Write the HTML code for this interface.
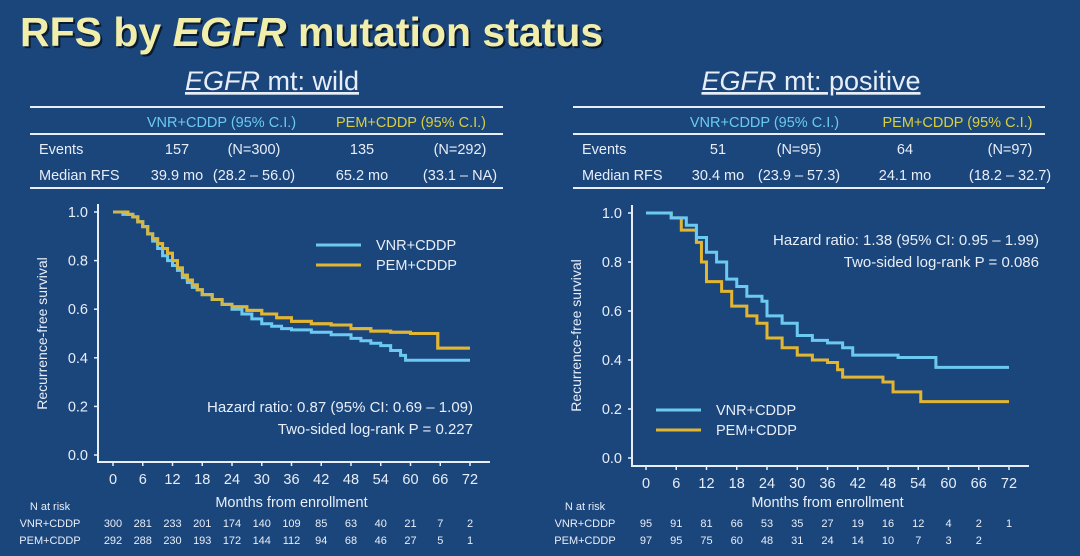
<!DOCTYPE html>
<html><head><meta charset="utf-8"><style>
body{margin:0;width:1080px;height:556px;background:#1b467c;overflow:hidden;font-family:"Liberation Sans",Arial,sans-serif}
svg{position:absolute;left:0;top:0}
text{font-family:"Liberation Sans",Arial,sans-serif}
</style></head><body>
<svg id="s" width="1080" height="556" viewBox="0 0 1080 556">
<text x="22" y="48" font-size="41" font-weight="bold" fill="#0a1a30">RFS by <tspan font-style="italic">EGFR</tspan> mutation status</text>
<text x="20" y="46" font-size="41" font-weight="bold" fill="#f0eeaa">RFS by <tspan font-style="italic">EGFR</tspan> mutation status</text>
</svg>
<script>
const months=[0,6,12,18,24,30,36,42,48,54,60,66,72];
const yTicks=[0,0.2,0.4,0.6,0.8,1.0];
const wildVnr=[[0,1],[2,0.99],[4,0.98],[5,0.96],[6,0.94],[7,0.91],[8,0.88],[9,0.85],[10,0.82],[11,0.8],[12,0.78],[13,0.76],[14,0.73],[15,0.71],[16,0.69],[17,0.68],[18,0.66],[20,0.64],[22,0.62],[24,0.6],[26,0.58],[28,0.56],[30,0.54],[32,0.53],[34,0.52],[36,0.515],[40,0.505],[44,0.495],[48,0.48],[50,0.47],[52,0.46],[54,0.45],[56,0.43],[58,0.41],[59,0.39],[72,0.39]];
const wildPem=[[0,1],[3,0.99],[4,0.98],[5,0.96],[6,0.94],[7,0.91],[8,0.89],[9,0.87],[10,0.85],[11,0.83],[12,0.8],[13,0.77],[14,0.74],[15,0.72],[16,0.7],[17,0.68],[18,0.66],[20,0.64],[22,0.62],[24,0.61],[27,0.595],[30,0.58],[33,0.565],[36,0.55],[40,0.54],[44,0.535],[48,0.52],[52,0.51],[56,0.505],[60,0.5],[65,0.5],[65.5,0.44],[72,0.44]];
const posVnr=[[0,1],[5,0.98],[8,0.95],[10,0.9],[12,0.84],[14,0.8],[16,0.73],[18,0.7],[20,0.66],[23,0.64],[24,0.58],[27,0.55],[30,0.5],[33,0.48],[36,0.47],[39,0.45],[41,0.42],[50,0.41],[57,0.41],[57.5,0.37],[72,0.37]];
const posPem=[[0,1],[5,0.98],[7,0.93],[10,0.88],[11,0.8],[12,0.72],[15,0.68],[17,0.62],[20,0.58],[22,0.55],[24,0.49],[27,0.45],[30,0.42],[33,0.4],[36,0.39],[38,0.36],[39,0.33],[47,0.31],[49,0.27],[54,0.27],[54.5,0.23],[72,0.23]];
const wildRiskVnr=[300,281,233,201,174,140,109,85,63,40,21,7,2];
const wildRiskPem=[292,288,230,193,172,144,112,94,68,46,27,5,1];
const posRiskVnr=[95,91,81,66,53,35,27,19,16,12,4,2,1];
const posRiskPem=[97,95,75,60,48,31,24,14,10,7,3,2,""];
const wildTable=[["157","(N=300)","135","(N=292)"],["39.9 mo","(28.2 – 56.0)","65.2 mo","(33.1 – NA)"]];
const posTable=[["51","(N=95)","64","(N=97)"],["30.4 mo","(23.9 – 57.3)","24.1 mo","(18.2 – 32.7)"]];

const NS="http://www.w3.org/2000/svg", S=document.getElementById('s');
function el(t,a,txt,p){const e=document.createElementNS(NS,t);for(const k in a)e.setAttribute(k,a[k]);if(txt!==undefined)e.textContent=txt;(p||S).appendChild(e);return e;}
const BLUE="#6ccaf2", YEL="#e2b532", WH="#e8eef8";

function panel(o){
  const g=el('g',{});
  
  
  const h=el('text',{x:o.hx,y:90,'font-size':27,fill:WH,'text-anchor':'middle','text-decoration':'underline'},undefined,g);
  h.innerHTML='<tspan font-style="italic">EGFR</tspan> mt: '+o.label;
  
  
  [107,134,188].forEach(y=>{const l=el('line',{x1:o.tx0,x2:o.tx1,y1:y,y2:y,stroke:WH,'stroke-width':2},undefined,g);
    
    });
  const cols=o.cols;
  const hv=el('text',{x:(cols[0]+cols[1])/2+6,y:127,'font-size':14.5,fill:BLUE,'text-anchor':'middle'},'VNR+CDDP (95% C.I.)',g);
  
  
  const hp=el('text',{x:(cols[2]+cols[3])/2,y:127,'font-size':14.5,fill:"#d8d040",'text-anchor':'middle'},'PEM+CDDP (95% C.I.)',g);
  
  
  ['Events','Median RFS'].forEach((r,i)=>{
    const y=154+i*26;
    const t=el('text',{x:o.tx0+9,y:y,'font-size':14.5,fill:WH},r,g);
    
    
    o.table[i].forEach((v,j)=>{const c=el('text',{x:cols[j],y:y,'font-size':14.5,fill:WH,'text-anchor':'middle'},v,g);
      
      });
  });
  const X=m=>o.x0+(o.x1-o.x0)*m/72, Y=v=>o.y0-(o.y0-o.y1)*v;
  const ax=el('path',{d:`M${o.ax} ${Y(1)-8} V${o.axy} H${X(72)+20}`,fill:'none',stroke:WH,'stroke-width':2},undefined,g);
  
  
  yTicks.forEach(v=>{
    const tk=el('line',{x1:o.ax-4,x2:o.ax,y1:Y(v),y2:Y(v),stroke:WH,'stroke-width':1.5},undefined,g);
    
    
    const t=el('text',{x:o.ax-10,y:Y(v)+5,'font-size':14.5,fill:WH,'text-anchor':'end'},v.toFixed(1),g);
    
    
  });
  months.forEach((m,i)=>{
    const tk=el('line',{x1:X(m),x2:X(m),y1:o.axy,y2:o.axy+4,stroke:WH,'stroke-width':1.5},undefined,g);
    
    
    const t=el('text',{x:X(m),y:o.axy+22,'font-size':14.5,fill:WH,'text-anchor':'middle'},m,g);
    
    
    const r1=el('text',{x:X(m),y:527,'font-size':11,fill:WH,'text-anchor':'middle'},o.rv[i],g);
    
    
    const r2=el('text',{x:X(m),y:544,'font-size':11,fill:WH,'text-anchor':'middle'},o.rp[i],g);
    
    
  });
  const xt=el('text',{x:(X(0)+X(72))/2,y:507,'font-size':14.5,fill:WH,'text-anchor':'middle'},'Months from enrollment',g);
  
  
  const yt=el('text',{transform:`translate(${o.ax-51},${(Y(0)+Y(1))/2}) rotate(-90)`,'font-size':14,fill:WH,'text-anchor':'middle'},'Recurrence-free survival',g);
  
  
  const nr=el('text',{x:o.nx,y:510,'font-size':11,fill:WH,'text-anchor':'middle'},'N at risk',g);
  
  
  const l1=el('text',{x:o.nx,y:527,'font-size':11,fill:WH,'text-anchor':'middle'},'VNR+CDDP',g);
  
  
  const l2=el('text',{x:o.nx,y:544,'font-size':11,fill:WH,'text-anchor':'middle'},'PEM+CDDP',g);
  
  
  function step(d){let s=`M${X(d[0][0])} ${Y(d[0][1])}`;for(let i=1;i<d.length;i++){s+=` H${X(d[i][0])} V${Y(d[i][1])}`;}return s;}
  const cp=el('path',{d:step(o.pem),fill:'none',stroke:YEL,'stroke-width':3},undefined,g);
  
  
  const cv=el('path',{d:step(o.vnr),fill:'none',stroke:BLUE,'stroke-width':3},undefined,g);
  
  
  if(o.name==='wild'){
    const cp2=el('path',{d:step(o.pem),fill:'none',stroke:YEL,'stroke-width':3,opacity:0.85},undefined,g);
    
    
  }
  const lg=o.leg;
  const a=el('line',{x1:lg[0],x2:lg[0]+45,y1:lg[1],y2:lg[1],stroke:BLUE,'stroke-width':3},undefined,g);
  
  
  const b=el('line',{x1:lg[0],x2:lg[0]+45,y1:lg[1]+20,y2:lg[1]+20,stroke:YEL,'stroke-width':3},undefined,g);
  
  
  const at=el('text',{x:lg[0]+60,y:lg[1]+5,'font-size':14.5,fill:WH},'VNR+CDDP',g);
  
  
  const bt=el('text',{x:lg[0]+60,y:lg[1]+25,'font-size':14.5,fill:WH},'PEM+CDDP',g);
  
  
  const s1=el('text',{x:o.sx,y:o.sy,'font-size':15,fill:WH,'text-anchor':'end'},o.s1,g);
  
  
  const s2=el('text',{x:o.sx,y:o.sy+22,'font-size':15,fill:WH,'text-anchor':'end'},o.s2,g);
  
  
}
panel({name:'wild',label:'wild',hx:272,tx0:30,tx1:503,cols:[177,254,362,460],table:wildTable,
  x0:113,x1:470,y0:455,y1:212,ax:98,axy:462,rv:wildRiskVnr,rp:wildRiskPem,nx:50,
  vnr:wildVnr,pem:wildPem,leg:[316,245],sx:473,sy:412,s1:'Hazard ratio: 0.87 (95% CI: 0.69 – 1.09)',s2:'Two-sided log-rank P = 0.227'});
panel({name:'positive',label:'positive',hx:811,tx0:573,tx1:1045,cols:[718,799,905,1010],table:posTable,
  x0:646,x1:1009,y0:458,y1:213,ax:632,axy:466,rv:posRiskVnr,rp:posRiskPem,nx:585,
  vnr:posVnr,pem:posPem,leg:[656,410],sx:1039,sy:245,s1:'Hazard ratio: 1.38 (95% CI: 0.95 – 1.99)',s2:'Two-sided log-rank P = 0.086'});
</script>
</body></html>
